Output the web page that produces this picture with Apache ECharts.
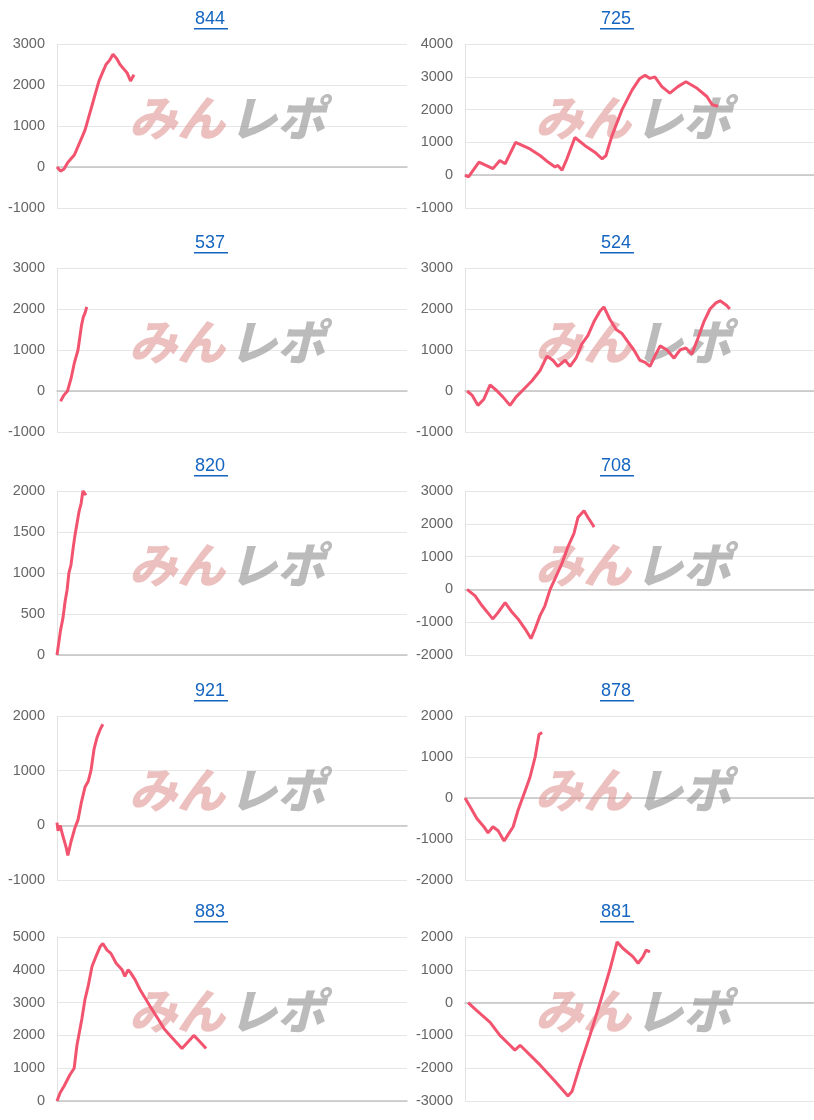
<!DOCTYPE html>
<html><head><meta charset="utf-8">
<script src="https://cdn.jsdelivr.net/npm/echarts@6/dist/echarts.min.js"></script>
<style>html,body{margin:0;padding:0;background:#fff}#c{width:814px;height:1120px}</style>
</head><body><div id="c"></div>
<script>
const titles = ['844','725','537','524','820','708','921','878','883','881'];
const yMin = [-1000,-1000,-1000,-1000,0,-2000,-1000,-2000,0,-3000];
const yMax = [3000,4000,3000,3000,2000,3000,2000,2000,5000,2000];
const yStep = [1000,1000,1000,1000,500,1000,1000,1000,1000,1000];
const s844 = [[0,0],[1,-100],[2,-50],[3,100],[4,200],[5,300],[6,500],[7,700],[8,900],[9,1200],[10,1500],[11,1800],[12,2100],[13,2300],[14,2500],[15,2600],[16,2750],[17,2650],[18,2500],[19,2400],[20,2300],[21,2100],[22,2250]];
const s725 = [[0,0],[1,-50],[4,400],[8,200],[10,450],[11.5,350],[14.5,1000],[18.6,800],[21.5,600],[23.8,400],[25.8,250],[26.6,300],[27.8,150],[29.2,500],[31.5,1150],[34.4,900],[37.2,700],[39.3,500],[40.4,600],[42.1,1200],[45,2000],[47.9,2600],[50.1,2950],[51.6,3050],[53,2950],[54.4,3000],[56.4,2700],[58.7,2500],[61,2700],[63.3,2850],[66.5,2650],[69.3,2400],[70.8,2150],[72.5,2100]];
const s537 = [[1,-250],[2,-100],[3,0],[4,300],[5,700],[6,1000],[6.5,1300],[7,1600],[7.5,1800],[8,1900],[8.5,2050]];
const s524 = [[0.6,0],[2,-100],[3.7,-350],[5.4,-200],[7.2,150],[9.2,0],[10.9,-150],[12.9,-350],[14.6,-150],[16.9,50],[19.2,250],[21.5,500],[23.5,850],[25.2,750],[26.6,600],[28.7,750],[30.1,600],[31.8,800],[33.5,1150],[35.2,1350],[37,1700],[38.7,1950],[39.8,2050],[41.5,1750],[43.3,1500],[45,1400],[46.7,1200],[48.4,1000],[50.1,750],[51.6,700],[53,600],[54.4,850],[55.9,1100],[57.9,1000],[59.9,800],[61.6,1000],[63.3,1050],[65,900],[66.8,1300],[68.5,1700],[70.2,2000],[71.9,2150],[73.1,2200],[74.8,2100],[75.9,2000]];
const s820 = [[0,0],[0.5,150],[1,300],[1.7,450],[2.3,650],[2.9,800],[3.4,1000],[4,1100],[4.6,1300],[5.1,1450],[5.7,1600],[6.3,1750],[6.9,1850],[7.4,2000],[8.3,1950]];
const s708 = [[0.6,0],[2.9,-200],[4.9,-500],[7.2,-800],[8,-900],[9.5,-700],[11.5,-400],[13.5,-700],[15.2,-900],[17.2,-1200],[18.9,-1500],[20.1,-1200],[21.5,-800],[22.9,-500],[24.4,0],[26.1,400],[27.8,800],[29.5,1300],[31.2,1700],[32.4,2200],[34.1,2400],[35.2,2200],[36.4,2000],[37,1900]];
const s921 = [[0,50],[0.3,-100],[0.9,0],[1.7,-200],[2.6,-400],[3.1,-550],[4,-300],[5.1,-50],[6,100],[6.9,400],[8,700],[8.9,800],[9.7,1000],[10.6,1400],[11.4,1600],[12.3,1750],[13.1,1850]];
const s878 = [[0,0],[1.4,-200],[3.4,-500],[5.4,-700],[6.6,-850],[8,-700],[9.5,-800],[11.2,-1050],[12.3,-900],[13.8,-700],[15.2,-300],[16.9,100],[18.6,500],[20.1,1000],[21.2,1550],[22.1,1600]];
const s883 = [[0,0],[0.9,250],[2,450],[3.7,800],[4.9,1000],[5.7,1700],[7.1,2500],[8,3100],[8.9,3500],[10,4100],[11.1,4400],[12.3,4700],[13.1,4800],[14.3,4600],[15.4,4500],[16.9,4200],[18.6,4000],[19.4,3800],[20.3,4000],[21.1,3900],[22.3,3700],[23.7,3400],[25.4,3100],[27.1,2800],[28.9,2500],[30.6,2200],[32.3,2000],[34,1800],[35.7,1600],[37.4,1800],[39.1,2000],[40.9,1800],[42.6,1600]];
const s881 = [[0.9,0],[2.9,-200],[7.2,-600],[10,-1000],[12.9,-1300],[14.3,-1450],[15.8,-1300],[21.5,-1900],[25.8,-2400],[29.5,-2850],[30.7,-2700],[33,-1900],[35.8,-1000],[38.7,0],[41.5,1000],[43.6,1850],[45.3,1650],[48.1,1400],[49.6,1200],[51,1400],[51.9,1600],[53,1550]];
const seriesData = [s844,s725,s537,s524,s820,s708,s921,s878,s883,s881];

const rowTop = [44,268,491,716,937];
const colLeft = [57,465];
const grids=[],xAxes=[],yAxes=[],series=[],graphics=[];
titles.forEach((t,i)=>{
  const r=Math.floor(i/2), c=i%2;
  const left=colLeft[c], top=rowTop[r], w=c?349:350, h=164;
  grids.push({left,top,width:w,height:h});
  xAxes.push({type:'value',gridIndex:i,min:0,max:100,axisLabel:{show:false},axisTick:{show:false},splitLine:{show:false},
    axisLine:{show:true,onZero:true,lineStyle:{color:'#c4c4c4',width:1.5}}});
  yAxes.push({type:'value',gridIndex:i,min:yMin[i],max:yMax[i],interval:yStep[i],
    axisLabel:{color:'#666',fontSize:14.5,fontFamily:'Arial',margin:12,formatter:v=>String(v)},
    axisLine:{show:true,lineStyle:{color:'#e2e2e2'}},axisTick:{show:false},
    splitLine:{lineStyle:{color:'#e6e6e6'}}});
  series.push({type:'line',xAxisIndex:i,yAxisIndex:i,data:seriesData[i],showSymbol:false,symbol:'none',
    lineStyle:{color:'#f2546f',width:3},z:5});
  const cx=c?617:211, ty=top-22;
  graphics.push({type:'text',left:cx-16,top:ty-12,z:10,style:{text:t,fill:'#1565c0',font:'18px Arial'}});
  graphics.push({type:'rect',shape:{x:cx-17,y:ty+6,width:34,height:1.5},style:{fill:'#1565c0'},z:10});
  const wx=c?535:129, wy=top+50;
  graphics.push({type:'text',x:wx,y:wy,z:1,style:{text:'みん',fill:'rgba(225,150,150,0.6)',font:'italic 900 48px "Noto Sans CJK JP"'}});
  graphics.push({type:'text',x:wx+100,y:wy,z:1,style:{text:'レポ',fill:'rgba(150,150,150,0.65)',font:'italic 900 48px "Noto Sans CJK JP"'}});
});
const chart=echarts.init(document.getElementById('c'));
chart.setOption({animation:false,grid:grids,xAxis:xAxes,yAxis:yAxes,series,graphic:graphics});
</script></body></html>
